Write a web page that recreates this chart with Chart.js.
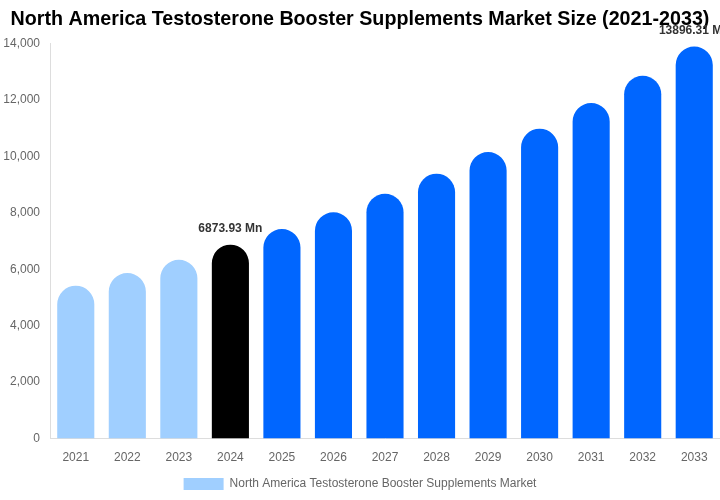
<!DOCTYPE html>
<html>
<head>
<meta charset="utf-8">
<script src="https://cdn.jsdelivr.net/npm/chart.js@4.4.1/dist/chart.umd.min.js"></script>
<style>
  html, body { margin: 0; padding: 0; background: #fff; }
  #wrap { width: 720px; height: 500px; position: relative; }
</style>
</head>
<body>
<div id="wrap"><canvas id="chart"></canvas></div>
<script>
const years = ["2021", "2022", "2023", "2024", "2025", "2026", "2027", "2028", "2029", "2030", "2031", "2032", "2033"]
const marketSize = [5420, 5870, 6340, 6873.93, 7430, 8020, 8680, 9390, 10160, 10985, 11895, 12860, 13896.31]
const barColors = ["#a0cfff", "#a0cfff", "#a0cfff", "#000000", "#0066ff", "#0066ff", "#0066ff", "#0066ff", "#0066ff", "#0066ff", "#0066ff", "#0066ff", "#0066ff"]
const labelledYears = ["2024", "2033"]
const seriesName = "North America Testosterone Booster Supplements Market"

const font = "Arial, 'Liberation Sans', sans-serif"

// value labels above the highlighted bars only
const valueLabels = {
  id: "valueLabels",
  afterDatasetsDraw(chart) {
    const { ctx } = chart
    const meta = chart.getDatasetMeta(0)
    ctx.save()
    ctx.font = "bold 12px " + font
    ctx.fillStyle = "#333"
    ctx.textAlign = "center"
    ctx.textBaseline = "middle"
    meta.data.forEach((bar, i) => {
      if (!labelledYears.includes(years[i])) return
      ctx.fillText(marketSize[i] + " Mn", bar.x, bar.y - 16)
    })
    ctx.restore()
  }
}

new Chart(document.getElementById("chart"), {
  type: "bar",
  data: {
    labels: years,
    datasets: [{
      label: seriesName,
      data: marketSize,
      backgroundColor: barColors,
      borderRadius: 40,
      borderSkipped: "bottom"
    }]
  },
  options: {
    responsive: true,
    maintainAspectRatio: false,
    animation: false,
    layout: { padding: 0 },
    plugins: {
      title: {
        display: true,
        text: "North America Testosterone Booster Supplements Market Size (2021-2033)",
        color: "#000",
        font: { family: font, size: 19.7, weight: "bold" },
        padding: { top: 8, bottom: 12 }
      },
      legend: {
        display: true,
        position: "bottom",
        labels: {
          color: "#666",
          font: { family: font, size: 12 },
          boxWidth: 40,
          boxHeight: 12,
          padding: 7,
          generateLabels: (chart) => [{
            text: seriesName,
            fillStyle: barColors[0],
            strokeStyle: barColors[0],
            lineWidth: 0,
            hidden: false,
            datasetIndex: 0,
            fontColor: "#666"
          }]
        }
      },
      tooltip: { enabled: false }
    },
    scales: {
      x: {
        grid: { display: false, drawTicks: false },
        border: { display: true, color: "#ddd" },
        ticks: { color: "#666", font: { family: font, size: 12 }, padding: 12 },
        afterFit: (scale) => { scale.height = scale.height - 6 }
      },
      y: {
        min: 0,
        max: 14000,
        grid: { display: false, drawTicks: false },
        border: { display: true, color: "#ddd" },
        ticks: { stepSize: 2000, color: "#666", font: { family: font, size: 12 }, padding: 10 },
        afterFit: (scale) => { scale.width = 50 }
      }
    }
  },
  plugins: [valueLabels]
})
</script>
</body>
</html>
